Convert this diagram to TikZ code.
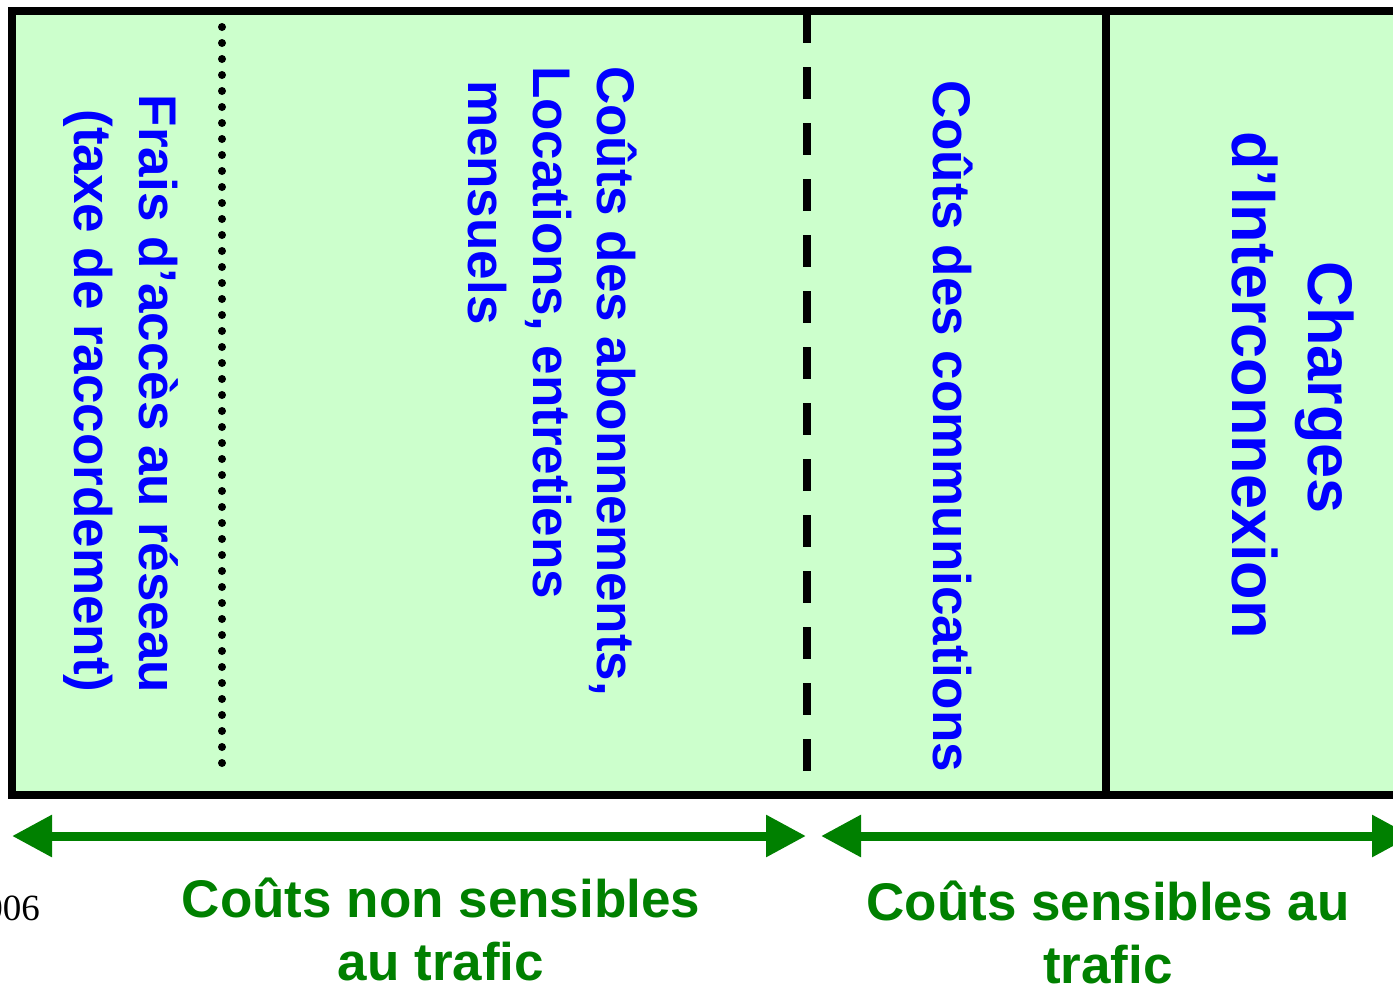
\documentclass[tikz,border=0pt]{standalone}
\usepackage{fontspec}
\setmainfont{Liberation Sans}
\newfontfamily\seriffont{Liberation Serif}
\usetikzlibrary{arrows.meta}
\definecolor{boxfill}{HTML}{CCFFCC}
\definecolor{textblue}{HTML}{0000FF}
\definecolor{darkgreen}{HTML}{008000}
\begin{document}
\begin{tikzpicture}[x=1pt,y=-1pt,
  vtext/.style={rotate=-90, inner sep=0pt, outer sep=0pt, text=textblue, font=\fontsize{53}{65}\selectfont\bfseries},
  bigvtext/.style={vtext, font=\fontsize{63}{76}\selectfont\bfseries},
  gtext/.style={inner sep=0pt, outer sep=0pt, text=darkgreen, font=\fontsize{53}{63}\selectfont\bfseries, anchor=base},
  frame/.style={line width=8pt, fill=boxfill},
  sepline/.style={line width=8pt},
  costarrow/.style={draw=darkgreen, line width=9pt, {Triangle[length=40pt,width=40pt]}-{Triangle[length=40pt,width=40pt]}}
]
\useasboundingbox (0,0) rectangle (1393,986);
\clip (0,0) rectangle (1393,986);
% frame
\draw[frame] (12,11) rectangle (1420,795);
% separators
\coordinate (dotT) at (222,27);
\coordinate (dotB) at (222,779);
\coordinate (dashT) at (807,11);
\coordinate (dashB) at (807,771);
\coordinate (solT) at (1106,11);
\coordinate (solB) at (1106,795);
\draw[sepline, line cap=round, dash pattern=on 0pt off 16pt] (dotT) -- (dotB);
\draw[sepline, dash pattern=on 32pt off 24pt] (dashT) -- (dashB);
\draw[sepline] (solT) -- (solB);
% vertical texts
\node[vtext, anchor=base] (frais1) at (139,394) {Frais d’accès au réseau};
\node[vtext, anchor=base] (frais2) at (74,401) {(taxe de raccordement)};
\node[vtext, anchor=base west] (abo1) at (597,66) {Coûts des abonnements,};
\node[vtext, anchor=base west] (abo2) at (533,66) {Locations, entretiens};
\node[vtext, anchor=base west] (abo3) at (468,80) {mensuels};
\node[vtext, anchor=base west] (comm) at (933,80) {Coûts des communications};
\node[bigvtext, anchor=base] (charg1) at (1308,388) {Charges};
\node[bigvtext, anchor=base] (charg2) at (1232,385) {d’Interconnexion};
% arrows
\coordinate (a1L) at (12,836);
\coordinate (a1R) at (806,836);
\coordinate (a2L) at (821,836);
\coordinate (a2R) at (1412,836);
\draw[costarrow] (a1L) -- (a1R);
\draw[costarrow] (a2L) -- (a2R);
% labels
\node[gtext] (ns1) at (441,917) {Coûts non sensibles};
\node[gtext] (ns2) at (441,980) {au trafic};
\node[gtext] (s1) at (1108,920) {Coûts sensibles au};
\node[gtext] (s2) at (1108,983) {trafic};
\node[inner sep=0pt, anchor=base east, font=\seriffont\fontsize{37}{40}\selectfont] (year) at (40,920) {2006};
\end{tikzpicture}
\end{document}
